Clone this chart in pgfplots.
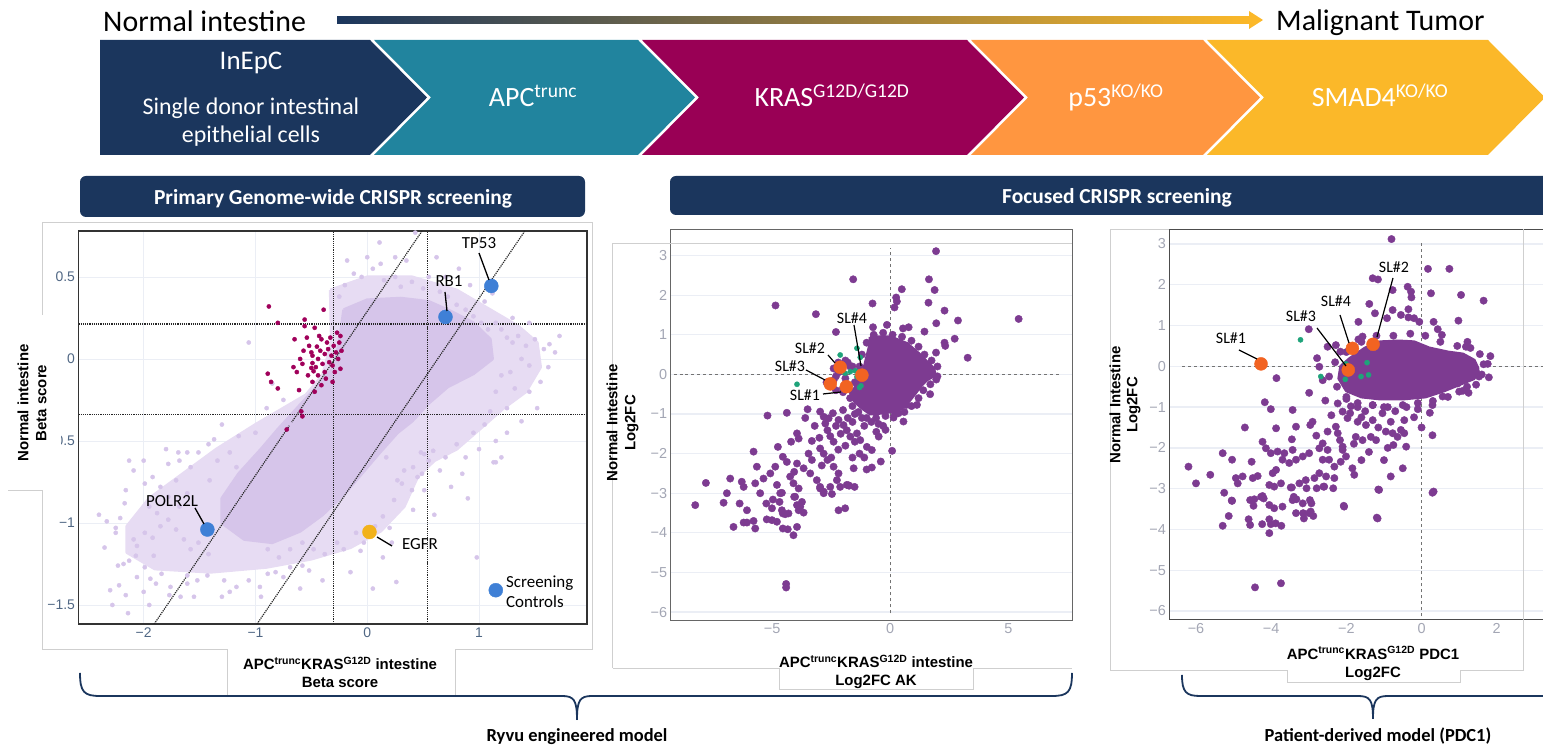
\documentclass[border=0pt]{standalone}
\usepackage{pgfplots}
\pgfplotsset{compat=1.18}
\usepackage{fontspec}
\setmainfont{Carlito}
\newfontfamily\arial{Liberation Sans}
\definecolor{navy}{HTML}{1B365D}
\definecolor{teal2}{HTML}{21849E}
\definecolor{mag}{HTML}{990055}
\definecolor{orng}{HTML}{FF9640}
\definecolor{yel}{HTML}{FBB829}
\definecolor{midgrad}{HTML}{B8904C}
\definecolor{lav}{HTML}{D6C5EA}
\definecolor{lavhalo}{HTML}{E7DCF3}
\definecolor{magpt}{HTML}{A0005A}
\definecolor{bluept}{HTML}{3F80D6}
\definecolor{egfr}{HTML}{F2B21B}
\definecolor{purp}{HTML}{7D3B91}
\definecolor{grn}{HTML}{1FA37A}
\definecolor{orpt}{HTML}{F26322}
\definecolor{tickA}{HTML}{506784}
\definecolor{tickB}{HTML}{A3A6B4}
\definecolor{gridA}{HTML}{EBEEF5}
\definecolor{frm}{HTML}{CFCFCF}
\pgfplotsset{pts/.style={only marks, mark=*, color=#1, mark options={draw=none, fill=#1}}}
\begin{document}
\begin{tikzpicture}
\useasboundingbox (0bp,0bp) rectangle (1543bp,748bp);

% ---------------- Plot 1 ----------------
\begin{axis}[at={(78.5bp,124bp)}, anchor=south west, scale only axis,
  width=508.5bp, height=393bp,
  xmin=-2.583, xmax=1.966, ymin=-1.616, ymax=0.78,
  axis line style={draw=black!80, line width=1.3bp},
  xtick={-2,-1,0,1}, xticklabels={−2,−1,0,1},
  ytick={-1.5,-1,-0.5,0,0.5}, yticklabels={−1.5,−1,−0.5,0,0.5},
  major tick length=0pt,
  tick label style={font=\arial\fontsize{14}{16}\selectfont, text=tickA},
  xmajorgrids, ymajorgrids, grid style={gridA, line width=0.8bp}]
% speckled outer cloud
\addplot[draw=lavhalo, fill=lavhalo, line width=3bp, line join=round] coordinates {
(-0.33,0.42) (0.0,0.5) (0.4,0.5) (0.8,0.42) (1.1,0.3) (1.35,0.2) (1.52,0.1) (1.55,-0.05)
(1.42,-0.2) (1.22,-0.3) (1.02,-0.42) (0.8,-0.55) (0.6,-0.62) (0.45,-0.72) (0.33,-0.9)
(0.12,-1.05) (-0.15,-1.15) (-0.5,-1.22) (-0.9,-1.27) (-1.4,-1.3) (-1.9,-1.28) (-2.15,-1.18)
(-2.15,-1.02) (-1.95,-0.85) (-1.65,-0.7) (-1.35,-0.55) (-1.0,-0.4) (-0.75,-0.3) (-0.55,-0.22)
(-0.4,-0.1) (-0.32,0.1) (-0.33,0.42)};
% dense core
\addplot[draw=lav, fill=lav, line width=3bp, line join=round] coordinates {
(-0.21,0.30) (0.0,0.36) (0.3,0.37) (0.55,0.35) (0.75,0.29) (0.95,0.22) (1.1,0.12) (1.12,0.0)
(0.95,-0.09) (0.72,-0.17) (0.55,-0.27) (0.4,-0.38) (0.27,-0.45) (0.1,-0.58) (0.0,-0.66)
(-0.2,-0.82) (-0.4,-0.95) (-0.6,-1.05) (-0.85,-1.12) (-1.1,-1.1) (-1.3,-1.0) (-1.3,-0.85)
(-1.15,-0.7) (-0.95,-0.55) (-0.8,-0.43) (-0.6,-0.28) (-0.45,-0.17) (-0.3,-0.05) (-0.25,0.1)
(-0.21,0.30)};
\addplot[pts=lav, mark size=2.1bp] coordinates {
(-0.2,0.45) (-0.05,0.5) (0.05,0.55) (0.15,0.48) (0.25,0.5) (0.3,0.44) (0.4,0.47) (0.5,0.43)
(0.55,0.5) (0.65,0.41) (0.72,0.38) (0.8,0.33) (0.88,0.3) (0.95,0.26) (1.02,0.22) (1.08,0.18)
(0.0,0.62) (0.11,0.71) (0.12,0.58) (-0.12,0.52) (0.35,0.6) (0.82,0.55) (0.62,0.62) (1.12,0.4)
(0.43,0.77) (1.15,0.22) (1.2,0.18) (1.25,0.13) (1.3,0.1) (1.35,0.14) (1.42,0.08) (1.5,0.12)
(1.58,0.06) (1.63,0.09) (1.68,0.04) (1.38,0.0) (1.45,-0.04) (1.28,-0.08) (1.2,-0.1) (1.15,-0.2)
(1.32,-0.18) (1.45,-0.2) (1.55,-0.14) (1.25,-0.3) (1.1,-0.32) (1.05,-0.4) (0.95,-0.45) (1.15,-0.5)
(1.2,-0.6) (1.13,-0.63) (0.88,-0.6) (0.8,-0.52) (0.7,-0.6) (0.65,-0.68) (0.55,-0.62) (0.45,-0.72)
(0.51,-0.8) (0.41,-0.92) (0.33,-0.68) (0.17,-0.60) (0.49,-0.70) (0.51,-0.58) (0.59,-0.56)
(0.20,-1.03) (0.22,-1.12) (0.26,-1.36) (-0.06,-1.17) (0.14,-1.21) (0.98,-1.21) (1.15,-0.63)
(0.75,-0.78) (0.9,-0.85) (0.6,-0.95) (-1.06,0.10) (-1.15,-0.47) (-1.37,-0.49) (-1.61,-0.57)
(-2.33,-0.99) (-2.25,-1.03) (-2.25,-1.06) (-2.21,-0.97) (-2.17,-0.88) (-2.23,-1.26) (-2.18,-1.25)
(-2.13,-1.23) (-2.07,-1.2) (-2.30,-1.41) (-2.22,-1.38) (-2.16,-1.44) (-2.14,-1.55) (-2.0,-1.42)
(-2.06,-1.33) (-1.94,-1.34) (-1.99,-1.27) (-1.91,-1.2) (-1.89,-1.37) (-1.84,-1.31) (-1.76,-1.39)
(-1.77,-1.44) (-1.67,-1.45) (-1.61,-1.37) (-1.61,-1.32) (-1.52,-1.35) (-1.43,-1.32) (-1.28,-1.35)
(-1.23,-1.42) (-1.17,-1.39) (-1.06,-1.35) (-0.96,-1.39) (-0.89,-1.31) (-0.82,-1.30) (-0.75,-1.33)
(-0.69,-1.27) (-0.58,-1.26) (-0.52,-1.29) (-2.09,-1.10) (-2.06,-1.14) (-1.99,-1.06) (-1.92,-1.09)
(-1.85,-1.02) (-1.78,-0.98) (-1.71,-1.04) (-1.64,-1.10) (-1.58,-1.16) (-1.51,-1.12) (-1.42,-1.19)
(-1.68,-0.90) (-1.61,-0.82) (-1.78,-0.84) (-1.85,-0.78) (-1.92,-0.72) (-1.99,-0.76) (-2.09,-0.68)
(-2.16,-0.80) (-1.95,-0.90) (-1.88,-0.94) (-1.71,-0.74) (-1.58,-0.66) (-1.68,-0.62) (-1.51,-0.57)
(-1.42,-0.52) (-1.34,-0.62) (-1.41,-0.74) (-1.23,-0.57) (-1.17,-0.66) (-1.10,-0.78) (-1.23,-0.86)
(-1.06,-0.94) (-0.96,-1.06) (-0.89,-1.16) (-0.79,-1.21) (-0.69,-1.16) (-0.58,-1.12) (-0.48,-1.16)
(-0.38,-1.19) (-0.27,-1.12) (-0.21,-1.16) (-0.10,-1.06) (-0.03,-1.12) (0.07,-1.02) (0.14,-0.96)
(0.24,-0.86) (0.31,-0.76) (0.27,-0.74) (0.41,-0.66) (0.48,-0.57) (-2.13,-0.62) (-1.69,-0.57)
(-1.78,-0.64) (-0.45,-0.55) (-0.55,-0.45) (-0.68,-0.4) (-0.75,-0.25) (-0.9,-0.3) (-0.65,-0.55)
(-0.4,-1.35) (-0.15,-1.3) (0.05,-1.4) (-1.0,-0.45) (-0.85,-0.15)
(1.3,0.25) (1.45,0.22) (1.52,-0.3) (1.38,-0.38) (1.62,-0.05) (1.72,0.14) (1.05,0.35) (0.7,0.5)
(0.25,0.62) (-0.25,0.38) (-0.18,0.6) (0.92,0.45) (1.25,-0.45) (1.0,-0.55) (0.85,-0.7) (0.4,-0.8)
(-2.35,-1.15) (-2.4,-0.95) (-2.28,-1.5) (-1.95,-1.5) (-1.55,-1.45) (-1.3,-1.45) (-0.95,-1.45)
(-0.6,-1.4) (-1.8,-0.55) (-2.0,-0.62) (-1.3,-0.4)};
\addplot[pts=magpt, mark size=2.1bp] coordinates {
(-0.88,0.32) (-0.39,0.30) (-0.80,0.22) (-0.56,0.24) (-0.56,0.20) (-0.47,0.19) (-0.65,0.12)
(-0.57,0.05) (-0.27,0.16) (-0.24,0.14) (-0.45,0.075) (-0.49,0.02) (-0.49,-0.025) (-0.50,-0.055)
(-0.48,-0.075) (-0.58,-0.03) (-0.63,-0.08) (-0.89,-0.09) (-0.86,-0.14) (-0.80,-0.18) (-0.61,-0.19)
(-0.49,-0.14) (-0.44,-0.10) (-0.38,-0.08) (-0.31,-0.14) (-0.24,-0.06) (-0.58,-0.35) (-0.59,-0.32)
(-0.72,-0.43) (-0.42,0.05) (-0.38,0.03) (-0.35,0.06) (-0.32,0.02) (-0.30,0.08) (-0.28,0.04)
(-0.26,0.0) (-0.34,-0.02) (-0.40,-0.03) (-0.36,0.10) (-0.31,-0.04) (-0.44,0.00) (-0.52,0.08)
(-0.41,0.12) (-0.29,-0.08) (-0.46,-0.05) (-0.53,-0.1) (-0.37,-0.12) (-0.43,0.14) (-0.33,0.13)
(-0.23,0.05) (-0.25,0.1) (-0.54,0.13) (-0.6,0.0) (-0.66,-0.05) (-0.5,0.04) (-0.47,-0.2) (-0.41,-0.16)};
\addplot[densely dotted, black!85, line width=1.2bp] coordinates {(-0.30,-1.616) (-0.30,0.78)};
\addplot[densely dotted, black!85, line width=1.2bp] coordinates {(0.54,-1.616) (0.54,0.78)};
\addplot[densely dotted, black!85, line width=1.2bp] coordinates {(-2.583,0.213) (1.966,0.213)};
\addplot[densely dotted, black!85, line width=1.2bp] coordinates {(-2.583,-0.34) (1.966,-0.34)};
\addplot[densely dotted, black!85, line width=1.2bp] coordinates {(-1.906,-1.616) (0.49,0.78)};
\addplot[densely dotted, black!85, line width=1.2bp] coordinates {(-0.986,-1.616) (1.41,0.78)};
\addplot[pts=bluept, mark size=7bp] coordinates {(1.11,0.445) (0.70,0.256) (-1.43,-1.04) (1.15,-1.41)};
\addplot[pts=egfr, mark size=7bp] coordinates {(0.02,-1.055)};
\end{axis}

% ---------------- Plot 2 ----------------
\begin{axis}[at={(670.7bp,128bp)}, anchor=south west, scale only axis,
  width=401.3bp, height=391bp,
  xmin=-9.3, xmax=7.7, ymin=-6.2, ymax=3.67,
  axis line style={draw=black!60, line width=0.9bp},
  xtick={-5,0,5}, xticklabels={−5,0,5},
  ytick={-6,-5,-4,-3,-2,-1,0,1,2,3}, yticklabels={−6,−5,−4,−3,−2,−1,0,1,2,3},
  major tick length=0pt,
  tick label style={font=\arial\fontsize{14.5}{16}\selectfont, text=tickB},
  ymajorgrids, grid style={gridA, line width=1.3bp}]
\addplot[dashed, black!55, line width=0.9bp] coordinates {(0,-6.03) (0,3.2)};
\addplot[dashed, black!55, line width=0.9bp] coordinates {(-9.18,0) (7.27,0)};
\addplot[draw=purp, fill=purp, line width=3bp, line join=round] coordinates {
(-0.85,0.95) (0.0,0.95) (0.71,0.78) (1.2,0.53) (1.55,0.32) (1.84,0.15) (1.91,-0.02)
(1.55,-0.14) (1.27,-0.31) (1.06,-0.48) (0.78,-0.69) (0.49,-0.86) (0.07,-0.94) (-0.42,-0.98)
(-0.85,-1.0) (-1.27,-0.82) (-1.55,-0.65) (-1.55,-0.40) (-1.34,-0.14) (-1.13,0.11)
(-0.99,0.45) (-0.85,0.78) (-0.85,0.95)};
\addplot[pts=purp, mark size=3.7bp] coordinates {
(1.94,3.11) (-1.57,2.40) (-4.86,1.74) (-3.15,1.52) (-0.75,1.79) (1.64,2.40) (1.88,2.13) (0.49,2.15)
(0.25,1.94) (0.28,1.84) (0.18,1.69) (1.62,1.81) (2.30,1.61) (2.87,1.36) (5.44,1.40) (1.95,1.29)
(1.45,1.08) (2.30,0.80) (2.33,0.72) (2.73,0.90) (1.94,0.55) (3.28,0.42) (1.95,-0.13) (1.69,-0.50)
(-2.30,1.07) (-0.73,1.19) (-0.14,1.25) (0.54,1.16) (0.78,1.19) (1.13,-0.77) (0.68,-0.77)
(0.56,-1.19) (0.35,-0.98) (0.08,-1.93) (0.14,-1.09)
(-5.20,-1.04) (-4.38,-0.97) (-3.50,-0.88) (-2.97,-0.94) (-2.82,-1.07) (-2.61,-1.11) (-2.43,-0.98)
(-3.95,-1.49) (-3.88,-1.62) (-3.32,-1.68) (-2.75,-1.24) (-2.66,-1.41) (-2.54,-1.56) (-2.40,-1.70)
(-2.19,-1.15) (-1.98,-1.28) (-1.84,-1.41) (-1.69,-1.57) (-1.41,-1.49) (-1.27,-1.66) (-0.99,-1.83)
(-0.78,-1.91) (-0.78,-2.35) (-0.59,-1.45) (-0.49,-1.57) (-1.55,-2.37) (-1.51,-2.84) (-1.74,-2.81)
(-2.97,-1.87) (-2.82,-2.0) (-2.66,-2.16) (-2.40,-2.33) (-2.19,-2.5) (-2.26,-2.67) (-2.12,-2.84)
(-3.46,-2.0) (-3.32,-2.16) (-3.67,-2.37) (-3.95,-2.25) (-4.07,-2.46) (-4.24,-2.58) (-4.10,-2.75)
(-4.55,-2.08) (-4.38,-2.21) (-4.87,-2.33) (-5.08,-2.5) (-5.37,-2.63) (-5.65,-2.33) (-5.79,-1.95)
(-4.76,-1.83) (-4.80,-2.79) (-4.59,-2.99) (-4.97,-3.16) (-5.25,-3.26) (-5.51,-3.0) (-5.72,-2.75)
(-6.29,-2.71) (-6.21,-2.84) (-6.78,-2.63) (-6.92,-3.0) (-7.81,-2.74) (-8.26,-3.30) (-7.06,-3.24)
(-6.07,-3.43) (-6.38,-3.26) (-4.59,-3.43) (-4.31,-3.51) (-3.81,-3.34) (-3.67,-3.49) (-4.07,-3.09)
(-3.88,-2.88) (-3.39,-2.5) (-3.11,-2.67) (-2.97,-2.84) (-2.82,-2.96) (-2.54,-2.84) (-1.84,-2.79)
(-2.19,-3.43) (-1.91,-3.38)
(-6.64,-3.85) (-6.21,-3.74) (-6.07,-3.74) (-5.79,-3.70) (-5.72,-3.89) (-5.01,-3.38) (-5.23,-3.66)
(-5.01,-3.68) (-4.80,-3.72) (-4.66,-3.0) (-4.69,-3.22) (-4.55,-3.51) (-4.45,-3.53) (-4.55,-3.89)
(-4.34,-3.91) (-3.95,-3.85) (-4.10,-4.06) (-4.03,-3.09) (-3.95,-3.30) (-3.74,-3.22) (-3.88,-3.43)
(-4.41,-5.29) (-4.41,-5.38) (-2.97,-2.88) (-2.82,-3.0) (-2.47,-3.02) (-1.77,-2.80)
(-1.2,-1.1) (-1.5,-1.0) (-1.8,-1.1) (-2.0,-0.9) (-1.6,-1.2) (-1.1,-1.3) (-0.8,-1.2) (-0.5,-1.25)
(-0.3,-1.3) (-2.3,-1.3) (-2.1,-1.5) (-1.5,-1.7) (-1.9,-1.8) (-2.2,-1.9) (-2.5,-2.1) (-1.3,-2.0)
(-1.1,-2.1) (-0.2,-1.4) (-3.2,-1.3) (-3.6,-1.1) (-4.2,-1.7) (-2.9,-2.3) (-3.0,-1.6) (-0.4,-2.2)
(-1.0,-2.4) (-1.6,-2.1)
(-1.7,-0.6) (-1.6,-0.8) (-1.35,-0.95) (-1.0,-1.1) (-0.6,-1.1) (-0.2,-1.05) (0.2,-1.0) (0.6,-0.95)
(0.9,-0.8) (1.2,-0.6) (1.4,-0.4) (1.7,-0.25) (2.0,-0.05) (2.0,0.2) (1.75,0.35) (1.45,0.5)
(1.2,0.7) (0.9,0.85) (0.5,0.95) (0.1,1.0) (-0.3,1.05) (-0.7,1.0) (-1.0,0.8) (-1.2,0.5) (-1.3,0.2)
(-1.5,-0.2) (-1.9,-0.1) (-2.2,0.05) (-2.4,-0.15) (-2.0,-0.45) (-2.3,-0.4) (-1.8,0.3) (-1.6,0.2)
(-2.4,0.15) (-2.3,-0.05) (-2.2,0.3) (-1.9,0.35) (-1.7,0.2) (-2.0,-0.35) (-1.6,-0.45) (-2.7,-0.2)};
\addplot[pts=grn, mark size=2.6bp] coordinates {
(-2.12,0.49) (-1.41,0.66) (-3.95,-0.25) (-1.27,0.43) (-1.69,0.07) (-1.48,0.09) (-1.24,-0.29)
(-1.91,0.03) (-1.41,-0.06) (-1.3,-0.33)};
\addplot[pts=orpt, mark size=6.5bp] coordinates {
(-2.12,0.18) (-1.20,-0.02) (-2.54,-0.24) (-1.86,-0.31)};
\end{axis}

% ---------------- Plot 3 ----------------
\begin{axis}[at={(1169.3bp,128bp)}, anchor=south west, scale only axis,
  width=400bp, height=390.7bp,
  xmin=-6.71, xmax=3.93, ymin=-6.22, ymax=3.36,
  axis line style={draw=black!70, line width=1bp},
  xtick={-6,-4,-2,0,2}, xticklabels={−6,−4,−2,0,2},
  ytick={-6,-5,-4,-3,-2,-1,0,1,2,3}, yticklabels={−6,−5,−4,−3,−2,−1,0,1,2,3},
  major tick length=0pt,
  tick label style={font=\arial\fontsize{14.5}{16}\selectfont, text=tickB},
  ymajorgrids, grid style={gridA, line width=1.3bp}]
\addplot[dashed, black!55, line width=0.9bp] coordinates {(0,-6.13) (0,3.08)};
\addplot[dashed, black!55, line width=0.9bp] coordinates {(-6.37,0) (3.93,0)};
\addplot[draw=purp, fill=purp, line width=3bp, line join=round] coordinates {
(-1.9,0.2) (-1.5,0.45) (-1.1,0.6) (-0.6,0.62) (-0.2,0.6) (0.2,0.45) (0.7,0.35) (1.1,0.3)
(1.4,0.15) (1.5,-0.05) (1.4,-0.3) (1.0,-0.45) (0.6,-0.6) (0.1,-0.75) (-0.5,-0.8) (-1.1,-0.8)
(-1.6,-0.75) (-2.0,-0.6) (-2.2,-0.3) (-2.15,0.0) (-1.9,0.2)};
\addplot[pts=purp, mark size=3.7bp] coordinates {
(-0.80,3.12) (0.17,2.39) (0.74,2.39) (-1.30,2.16) (-1.16,2.13) (-0.37,1.95) (-0.28,1.83) (-0.27,1.69)
(-0.77,1.87) (0.25,1.79) (1.05,1.75) (1.65,1.61) (-1.39,1.53) (-1.24,1.30) (-0.77,1.38) (-0.35,1.40)
(-0.55,1.26) (-0.35,1.2) (-0.2,1.18) (-0.06,1.09) (-0.92,1.18) (-1.68,1.09) (0.32,1.09) (0.98,1.12)
(-3.0,0.91) (0.43,0.91) (0.54,0.77) (1.22,0.60) (1.18,0.48) (1.83,0.25) (1.76,0.06) (1.79,-0.27)
(1.25,-0.65) (1.00,-0.62) (-3.86,-0.29) (-2.99,-0.65) (-4.17,-0.88) (-4.01,-1.05) (-3.43,-1.07)
(-2.56,-0.84) (-4.70,-1.50) (-3.87,-1.52) (-3.34,-1.48) (-3.45,-1.79) (-2.90,-1.36) (-2.96,-1.44)
(0.22,-1.14) (0.29,-1.69) (0.32,-3.07) (-0.82,-2.70) (-1.15,-3.02) (-1.19,-3.71) (-5.29,-2.13)
(-5.04,-2.29) (-4.52,-2.34) (-4.23,-1.85) (-4.14,-2.01) (-4.01,-2.13) (-6.20,-2.46) (-6.00,-2.87)
(-5.62,-2.66) (-5.25,-3.10) (-5.04,-3.30) (-4.94,-2.74) (-4.76,-2.70) (-4.89,-2.87) (-4.49,-2.74)
(-4.36,-2.69) (-4.45,-3.26) (-4.27,-3.20) (-4.05,-2.91) (-3.92,-2.95) (-3.74,-2.87) (-3.96,-2.62)
(-3.87,-2.54) (-3.70,-2.29) (-3.52,-2.37) (-3.34,-2.29) (-3.83,-2.09) (-3.65,-2.13) (-3.43,-2.05)
(-3.16,-2.21) (-2.99,-2.13) (-2.72,-2.01) (-2.63,-1.89) (-2.50,-2.05) (-2.63,-2.29) (-2.46,-2.29)
(-2.32,-2.46) (-2.54,-2.70) (-3.48,-2.97) (-3.25,-2.87) (-3.08,-2.79) (-2.85,-2.74) (-2.72,-2.62)
(-2.59,-2.95) (-2.32,-2.74) (-3.70,-3.44) (-3.43,-3.28) (-3.16,-3.36) (-2.99,-3.60) (-3.34,-3.60)
(-2.06,-3.44) (-2.10,-2.05) (-2.01,-2.21) (-2.15,-2.34) (-1.84,-2.50) (-1.79,-2.66) (-2.28,-1.48)
(-2.23,-1.64) (-2.17,-1.81) (-2.10,-1.97) (-1.75,-1.73) (-1.57,-1.81) (-1.35,-1.73) (-1.21,-1.81)
(-0.77,-1.64) (-0.64,-1.73) (-0.46,-1.64) (-0.41,-1.97) (-0.75,-1.93) (-1.70,-1.36) (-1.48,-1.44)
(-1.30,-1.32) (-1.04,-1.15) (-0.82,-1.36) (-0.46,-1.32) (-0.55,-1.56) (-2.23,-0.91) (-2.10,-1.11)
(-1.97,-1.27) (-1.88,-0.98) (-2.63,-0.34) (-2.46,-0.25) (-2.78,0.20) (-2.72,-0.01) (-2.50,0.48)
(-2.28,0.52) (-2.16,0.36) (-1.68,0.66) (-1.57,0.73)
(-5.05,-3.29) (-5.29,-3.91) (-5.13,-3.67) (-4.56,-3.28) (-4.47,-3.42) (-4.60,-3.75) (-4.56,-3.89)
(-4.23,-3.18) (-4.20,-3.24) (-4.24,-3.87) (-4.05,-3.75) (-4.05,-3.40) (-3.92,-3.48) (-4.01,-3.87)
(-3.88,-3.85) (-3.73,-3.91) (-4.05,-4.09) (-3.45,-2.97) (-3.40,-3.20) (-3.33,-3.26) (-3.15,-3.60)
(-3.13,-3.73) (-2.95,-3.56) (-2.88,-3.67) (-2.97,-3.28) (-2.93,-3.36) (-3.06,-2.99) (-2.79,-2.99)
(-2.61,-2.95) (-2.35,-2.99) (-2.07,-3.42) (-1.17,-3.73) (-1.13,-3.03) (0.29,-3.10) (-4.43,-5.42)
(-3.74,-5.32)
(-2.3,0.1) (-2.25,-0.5) (-2.0,-0.75) (-1.7,-0.9) (-1.3,-0.95) (-0.9,-1.0) (-0.5,-0.95) (-0.1,-0.9)
(0.3,-0.85) (0.7,-0.75) (1.1,-0.6) (1.45,-0.45) (1.6,-0.2) (1.65,0.05) (1.55,0.3) (1.3,0.45)
(0.95,0.5) (0.5,0.6) (0.1,0.75) (-0.3,0.8) (-0.75,0.75) (-1.2,0.75) (-1.6,0.6) (-2.0,0.35)
(1.27,0.0) (1.45,-0.13) (1.53,-0.25) (1.21,-0.5) (0.96,-0.42) (0.56,-0.74) (0.29,-0.95) (0.2,-0.66)
(-2.0,-0.8) (-1.7,-1.0) (-1.5,-1.1) (-1.3,-0.95) (-1.0,-1.0) (-0.7,-1.1) (-0.4,-1.0) (-0.1,-1.05)
(-1.9,-1.15) (-1.6,-1.25) (-1.15,-1.5) (-0.95,-1.6) (-0.2,-1.25) (0.0,-1.5) (-1.4,-2.1) (-0.9,-2.0)
(-2.4,-1.2) (-1.8,-1.9) (-2.5,-1.6) (-2.8,-1.7) (-1.0,-2.3) (-0.5,-2.5) (-1.6,-2.3)};
\addplot[pts=grn, mark size=2.6bp] coordinates {
(-3.22,0.65) (-1.45,0.09) (-2.68,-0.25) (-2.03,-0.32) (-1.61,-0.25) (-1.41,-0.21) (-2.01,0.06)};
\addplot[pts=orpt, mark size=6.5bp] coordinates {
(-4.27,0.06) (-1.84,0.44) (-1.29,0.54) (-1.95,-0.09)};
\end{axis}

% ---------------- Decorations (pixel coordinates, y downward) ----------------
\begin{scope}[yshift=748bp, x=1bp, y=-1bp]
% top arrow
\node[anchor=base west, inner sep=0, font=\fontsize{30}{32}\selectfont] at (103,32) {Normal intestine};
\node[anchor=base west, inner sep=0, font=\fontsize{30}{32}\selectfont] at (1276,31) {Malignant Tumor};
\shade[left color=navy, middle color=midgrad, right color=yel] (337,16.5) rectangle (1250,23.5);
\fill[yel] (1249,11) -- (1263,20) -- (1249,29) -- cycle;
% chevrons
\fill[navy]  (100,40) -- (370,40) -- (427,97.5) -- (370,155) -- (100,155) -- cycle;
\fill[teal2] (374,40) -- (638,40) -- (695,97.5) -- (638,155) -- (374,155) -- (431,97.5) -- cycle;
\fill[mag]   (642,40) -- (967,40) -- (1024,97.5) -- (967,155) -- (642,155) -- (699,97.5) -- cycle;
\fill[orng]  (971,40) -- (1203,40) -- (1260,97.5) -- (1203,155) -- (971,155) -- (1028,97.5) -- cycle;
\fill[yel]   (1207,40) -- (1488,40) -- (1545,97.5) -- (1488,155) -- (1207,155) -- (1264,97.5) -- cycle;
\node[anchor=base, text=white, font=\fontsize{27}{30}\selectfont] at (251,70) {InEpC};
\node[anchor=base, text=white, font=\fontsize{24}{28}\selectfont] at (251,115) {Single donor intestinal};
\node[anchor=base, text=white, font=\fontsize{24}{28}\selectfont] at (251,143) {epithelial cells};
\node[anchor=base, text=white, font=\fontsize{28}{30}\selectfont] at (533,107) {APC\textsuperscript{trunc}};
\node[anchor=base, text=white, font=\fontsize{28}{30}\selectfont] at (832,107) {KRAS\textsuperscript{G12D/G12D}};
\node[anchor=base, text=white, font=\fontsize{28}{30}\selectfont] at (1116,107) {p53\textsuperscript{KO/KO}};
\node[anchor=base, text=white, font=\fontsize{28}{30}\selectfont] at (1380,107) {SMAD4\textsuperscript{KO/KO}};
% title bars
\fill[navy, rounded corners=6bp] (80,176) rectangle (585,217);
\node[anchor=base, text=white, font=\bfseries\fontsize{21.5}{24}\selectfont] at (333,205) {Primary Genome-wide CRISPR screening};
\fill[navy, rounded corners=6bp] (670,176) rectangle (1560,215);
\node[anchor=base, text=white, font=\bfseries\fontsize{21.5}{24}\selectfont] at (1117,204) {Focused CRISPR screening};
% frames plot 1
\draw[frm, line width=0.8bp] (42,315) -- (42,222.7) -- (592,222.7) -- (592,649) -- (455,649) -- (455,695);
\draw[frm, line width=0.8bp] (8,315) -- (42,315);
\fill[white] (0,315.5) rectangle (61,490);
\draw[frm, line width=0.8bp] (8,490.7) -- (42,490.7) -- (42,649) -- (227,649) -- (227,695);
% frames plot 2
\draw[frm, line width=0.8bp] (612.7,668) -- (612.7,243) -- (1072,243);
\draw[frm, line width=0.8bp] (612.7,668) -- (779,668) (973,668) -- (1072,668);
\draw[frm, line width=0.8bp] (779,668) -- (779,689) -- (973,689) -- (973,668);
% frames plot 3
\draw[frm, line width=0.8bp] (1169,229.3) -- (1110.7,229.3) -- (1110.7,670) -- (1287,670) -- (1287,682) -- (1460,682) -- (1460,670) -- (1523,670) -- (1523,229.3);
% axis labels
\node[rotate=90, align=center, font=\arial\bfseries\fontsize{15}{18}\selectfont] at (32,403) {Normal intestine\\Beta score};
\node[align=center, font=\arial\bfseries\fontsize{15}{18}\selectfont] at (340,672) {APC\textsuperscript{trunc}KRAS\textsuperscript{G12D} intestine\\Beta score};
\node[rotate=90, align=center, font=\arial\bfseries\fontsize{15}{18}\selectfont] at (622.5,423) {Normal Intestine\\Log2FC};
\node[align=center, font=\arial\bfseries\fontsize{15}{18}\selectfont] at (876,672) {APC\textsuperscript{trunc}KRAS\textsuperscript{G12D} intestine\\Log2FC AK};
\node[rotate=90, align=center, font=\arial\bfseries\fontsize{15}{17}\selectfont] at (1125,405) {Normal Intestine\\Log2FC};
\node[align=center, font=\arial\bfseries\fontsize{15}{18}\selectfont] at (1373,663.5) {APC\textsuperscript{trunc}KRAS\textsuperscript{G12D} PDC1\\Log2FC};
% plot 1 annotations
\begin{scope}[font=\fontsize{17}{19}\selectfont]
\node at (479,243) {TP53};
\draw[black, line width=1.3bp] (479,253) -- (489,280);
\node at (449,281) {RB1};
\draw[black, line width=1.3bp] (445,292) -- (447,311);
\node at (172,501) {POLR2L};
\draw[black, line width=1.3bp] (195,508) -- (204,524);
\node at (420,544) {EGFR};
\draw[black, line width=1.3bp] (377,537) -- (392,546);
\node[anchor=west, inner sep=0] at (506,583) {Screening};
\node[anchor=west, inner sep=0] at (506,602) {Controls};
\end{scope}
% plot 2 / 3 annotations
\begin{scope}[font=\fontsize{16}{18}\selectfont]
\node at (852,318) {SL\#4};
\draw[black, line width=1.2bp] (854,325) -- (861,366);
\node at (810,348) {SL\#2};
\draw[black, line width=1.2bp] (828,355) -- (835,363);
\node at (790,366) {SL\#3};
\draw[black, line width=1.2bp] (806,370) -- (825,380);
\node at (805,395) {SL\#1};
\draw[black, line width=1.2bp] (823,394) -- (841,392);
\node at (1231,338) {SL\#1};
\draw[black, line width=1.2bp] (1239,350) -- (1257,359);
\node at (1301,316) {SL\#3};
\draw[black, line width=1.2bp] (1317,328) -- (1346,366);
\node at (1336,301) {SL\#4};
\draw[black, line width=1.2bp] (1340,315) -- (1349,343);
\node at (1394,267) {SL\#2};
\draw[black, line width=1.2bp] (1393,278) -- (1377,337);
\end{scope}
% braces
\draw[navy, line width=1.8bp] (80,673) .. controls (80,692) and (84,696) .. (100,696) -- (562,696) .. controls (574,696) and (577,700) .. (577,720);
\draw[navy, line width=1.8bp] (577,720) .. controls (577,700) and (580,696) .. (592,696) -- (1052,696) .. controls (1068,696) and (1072,692) .. (1072,673);
\draw[navy, line width=1.8bp] (1182,675) .. controls (1182,692) and (1186,696) .. (1200,696) -- (1358,696) .. controls (1370,696) and (1373,700) .. (1373,719);
\draw[navy, line width=1.8bp] (1373,719) .. controls (1373,700) and (1376,696) .. (1388,696) -- (1560,696);
\node[anchor=base, font=\bfseries\fontsize{18.5}{20}\selectfont] at (577,742) {Ryvu engineered model};
\node[anchor=base, font=\bfseries\fontsize{18.5}{20}\selectfont] at (1378,742) {Patient-derived model (PDC1)};
\end{scope}
\end{tikzpicture}
\end{document}
